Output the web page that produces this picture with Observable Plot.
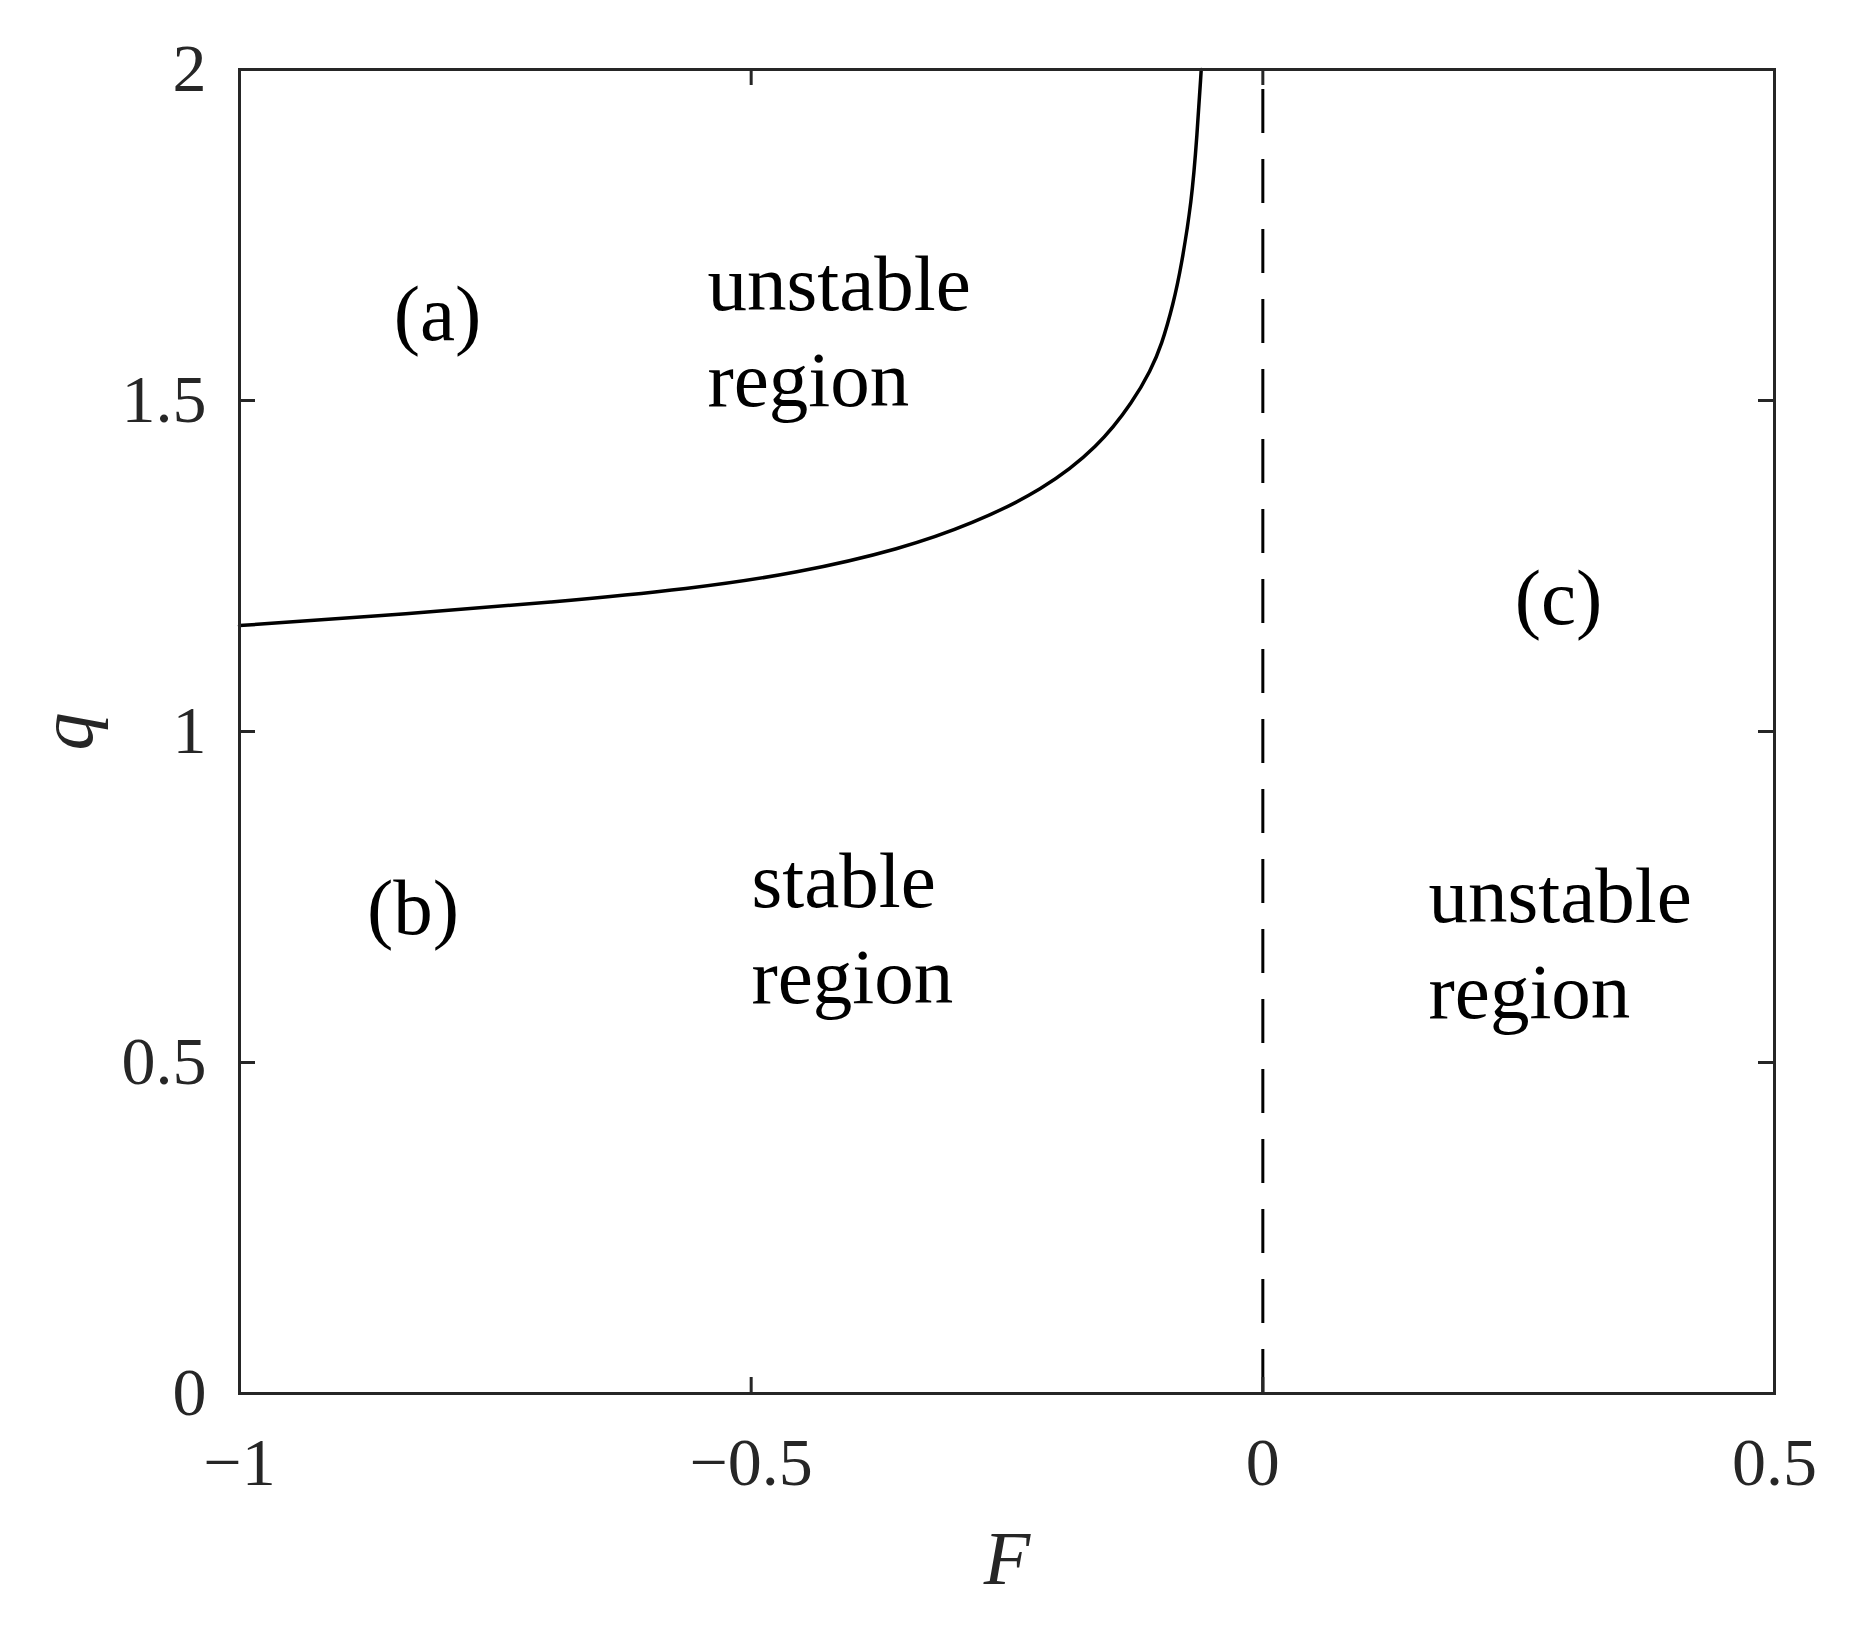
<!DOCTYPE html>
<html>
<head>
<meta charset="utf-8">
<script src="https://cdn.jsdelivr.net/npm/d3@7"></script>
<script src="https://cdn.jsdelivr.net/npm/@observablehq/plot@0.6"></script>
<style>
  html, body { margin: 0; padding: 0; background: #ffffff; }
  #chart svg { display: block; }
</style>
</head>
<body>
<div id="chart"></div>
<script>
// ---- data ----
const xTicks = [-1, -0.5, 0, 0.5];
const xTickLabels = ["\u22121", "\u22120.5", "0", "0.5"];
const yTicks = [0, 0.5, 1, 1.5, 2];
const yTickLabels = ["0", "0.5", "1", "1.5", "2"];

// stability boundary q(F)
const boundaryF = [-1, -0.8324, -0.6953, -0.5583, -0.4554, -0.3526, -0.284, -0.2155, -0.1607, -0.1261, -0.1098, -0.0990, -0.0872, -0.0800, -0.0695, -0.0643, -0.0602];
const boundaryQ = [1.160, 1.178, 1.195, 1.2156, 1.239, 1.276, 1.3137, 1.364, 1.4295, 1.500, 1.545, 1.583, 1.648, 1.700, 1.800, 1.900, 2.0];

// vertical dashed line F = 0
const dashF = [0];

// panel labels (centred)
const panelLabels = ["(a)", "(b)", "(c)"];
const panelF = [-0.8065, -0.8305, 0.2889];
const panelQ = [1.591, 0.6934, 1.163];

// region labels (left aligned, two lines)
const regionLabels = ["unstable\nregion", "stable\nregion", "unstable\nregion"];
const regionF = [-0.5427, -0.4997, 0.1619];
const regionQ = [1.491, 0.590, 0.5665];

const xLabel = "F";
const yLabel = "q";

// ---- layout ----
const W = 1875, H = 1630;
const mL = 239, mR = 101, mT = 69, mB = 237;
const plotW = W - mL - mR, plotH = H - mT - mB;
const tickLen = 16;
const axisColor = "#262626";
const font = "'Liberation Serif', 'Times New Roman', Times, serif";

const boundary = boundaryF.map((f, i) => ({F: f, q: boundaryQ[i]}));

const chart = Plot.plot({
  width: W,
  height: H,
  marginLeft: mL,
  marginRight: mR,
  marginTop: mT,
  marginBottom: mB,
  style: {fontFamily: font, background: "#ffffff", color: axisColor},
  x: {domain: [xTicks[0], xTicks[xTicks.length - 1]], axis: null},
  y: {domain: [yTicks[0], yTicks[yTicks.length - 1]], axis: null},
  marks: [
    // dashed line at F = 0
    Plot.ruleX(dashF, {x: d => d, y1: yTicks[0], y2: yTicks[yTicks.length - 1], stroke: "#000", strokeWidth: 3, strokeDasharray: "44,26"}),
    // boundary curve
    Plot.line(boundary, {x: "F", y: "q", curve: "basis", stroke: "#000", strokeWidth: 3.5}),
    // inward ticks, all four sides
    Plot.ruleX(xTicks, {x: d => d, insetTop: plotH - tickLen, stroke: axisColor, strokeWidth: 3}),
    Plot.ruleX(xTicks, {x: d => d, insetBottom: plotH - tickLen, stroke: axisColor, strokeWidth: 3}),
    Plot.ruleY(yTicks, {y: d => d, insetRight: plotW - tickLen, stroke: axisColor, strokeWidth: 3}),
    Plot.ruleY(yTicks, {y: d => d, insetLeft: plotW - tickLen, stroke: axisColor, strokeWidth: 3}),
    // box
    Plot.frame({stroke: axisColor, strokeWidth: 3}),
    // tick labels
    Plot.text(xTicks, {x: d => d, frameAnchor: "bottom", text: (d, i) => xTickLabels[i], textAnchor: "middle", lineAnchor: "top", dy: 43, fontSize: 68, fontFamily: font, fill: axisColor}),
    Plot.text(yTicks, {y: d => d, frameAnchor: "left", text: (d, i) => yTickLabels[i], textAnchor: "end", lineAnchor: "middle", dx: -33, fontSize: 68, fontFamily: font, fill: axisColor}),
    // axis labels
    Plot.text([xLabel], {frameAnchor: "bottom", text: d => d, textAnchor: "middle", lineAnchor: "bottom", dy: 190, fontSize: 76, fontStyle: "italic", fontFamily: font, fill: axisColor}),
    Plot.text([yLabel], {frameAnchor: "left", text: d => d, rotate: -90, textAnchor: "middle", lineAnchor: "middle", dx: -172, fontSize: 76, fontStyle: "italic", fontFamily: font, fill: axisColor}),
    // annotations
    Plot.text(panelLabels, {x: (d, i) => panelF[i], y: (d, i) => panelQ[i], text: d => d, textAnchor: "middle", lineAnchor: "bottom", fontSize: 79, fontFamily: font, fill: "#000"}),
    Plot.text(regionLabels, {x: (d, i) => regionF[i], y: (d, i) => regionQ[i], text: d => d, textAnchor: "start", lineAnchor: "bottom", lineHeight: 1.22, fontSize: 79, fontFamily: font, fill: "#000"})
  ]
});

document.getElementById("chart").appendChild(chart);
</script>
</body>
</html>
